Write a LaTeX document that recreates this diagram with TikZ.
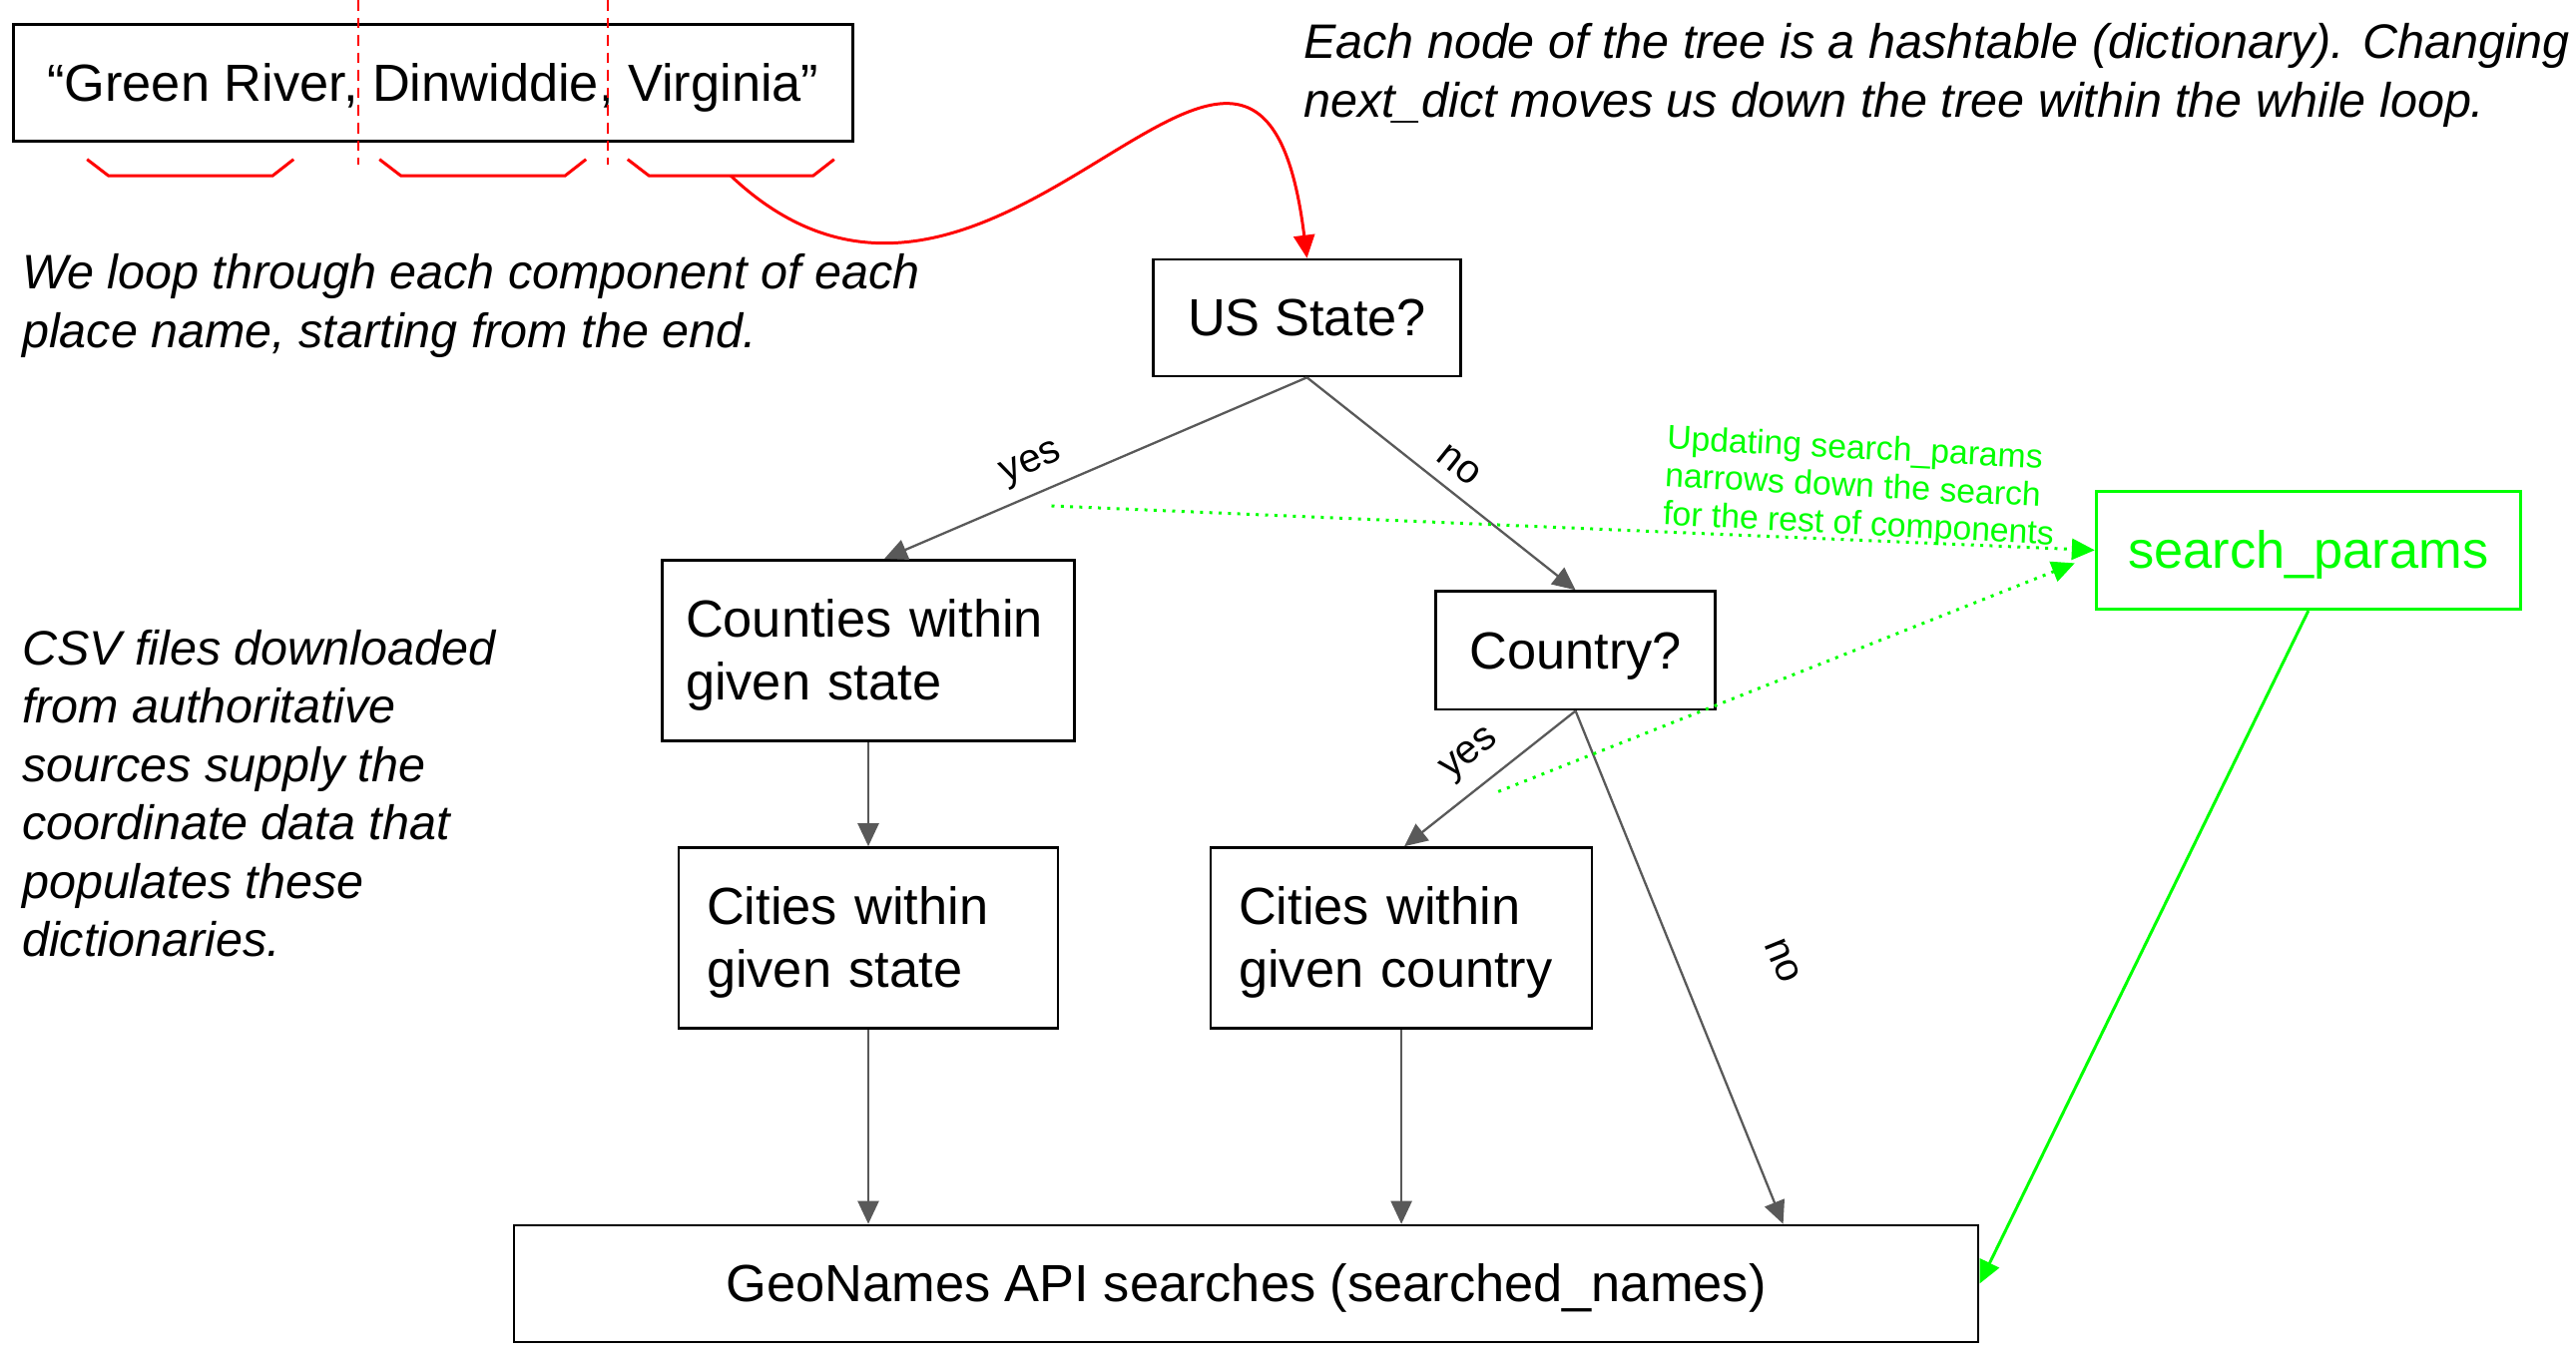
\documentclass[tikz,border=0pt]{standalone}
\usepackage{fontspec}
\setmainfont{Liberation Sans}
\usepackage{tikz}
\usetikzlibrary{arrows.meta}
\definecolor{linegray}{HTML}{595959}
\definecolor{notegreen}{HTML}{00FF00}
\definecolor{notered}{HTML}{FF0000}

\begin{document}
\begin{tikzpicture}[scale=1,
    box/.style={draw, line width=0.75pt, inner sep=0pt, align=left, font=\fontsize{14.9}{17.9}\selectfont,
        execute at begin node=\rule{0pt}{0.905em}, execute at end node=\rule[-0.212em]{0pt}{0pt}},
    note/.style={anchor=west, inner sep=0pt, align=left, font=\fontsize{13.8}{16.8}\selectfont\itshape},
    tag/.style={inner sep=0pt, font=\fontsize{11.4}{13}\selectfont},
    flow/.style={draw=linegray, line width=0.65pt, -{Triangle[length=0.23cm, width=0.21cm]}},
    hint/.style={draw=notegreen, line width=0.85pt, dash pattern=on 0.85pt off 1.8pt, -{Triangle[length=0.23cm, width=0.21cm]}}]
    \useasboundingbox (0,0) rectangle (25.81,13.6);
    \node[box, minimum width=8.41cm, minimum height=1.17cm] (place) at (4.338,12.768) {“Green River, Dinwiddie, Virginia”};
    \draw[notered, line width=0.75pt, dash pattern=on 3pt off 2pt] (3.589,13.6) -- (3.589,11.954);
    \draw[notered, line width=0.75pt, dash pattern=on 3pt off 2pt] (6.091,13.6) -- (6.091,11.954);
    \foreach \x in {0.872,3.802,6.288}
        \draw[notered, line width=0.85pt] (\x,12.003) -- (\x+0.214,11.839) -- (\x+1.86,11.839) -- (\x+2.07,12.003);
    \coordinate (cvstart) at (7.32,11.84);
    \node[note] (loopnote) at (0.214,10.537) {We loop through each component of each\\place name, starting from the end.};
    \node[note] (treenote) at (13.054,12.842) {Each node of the tree is a hashtable (dictionary). Changing\\next\_dict moves us down the tree within the while loop.};
    \node[note, font=\fontsize{13.8}{16.65}\selectfont\itshape] (csvnote) at (0.214,5.649) {CSV files downloaded\\from authoritative\\sources supply the\\coordinate data that\\populates these\\dictionaries.};
    \node[box, minimum width=3.08cm, minimum height=1.17cm] (state) at (13.095,10.415) {US State?};
    \node[box, minimum width=4.13cm, minimum height=1.81cm, text width=3.66cm] (counties) at (8.70,7.081) {Counties within\\given state};
    \node[box, minimum width=2.80cm, minimum height=1.185cm] (country) at (15.786,7.081) {Country?};
    \node[box, minimum width=3.80cm, minimum height=1.81cm, text width=3.24cm] (citystate) at (8.70,4.20) {Cities within\\given state};
    \node[box, minimum width=3.82cm, minimum height=1.81cm, text width=3.26cm] (citycountry) at (14.041,4.20) {Cities within\\given country};
    \node[box, minimum width=14.67cm, minimum height=1.17cm] (geo) at (12.486,0.735) {GeoNames API searches (searched\_names)};
    \node[box, draw=notegreen, text=notegreen, line width=0.85pt, minimum width=4.25cm, minimum height=1.185cm] (params) at (23.128,8.086) {search\_params};
    \draw[notered, line width=0.85pt, -{Triangle[length=0.23cm, width=0.21cm]}] (cvstart) .. controls (10.0,9.3) and (12.6,15.0) .. (state.north);
    \draw[flow] (state.south) -- ([xshift=0.16cm]counties.north);
    \draw[flow] (state.south) -- (country.north);
    \draw[flow] (counties.south) -- (citystate.north);
    \draw[flow] (country.south) -- ([xshift=0.03cm]citycountry.north);
    \draw[flow] (country.south) -- ([xshift=5.38cm]geo.north);
    \draw[flow] (citystate.south) -- (citystate.south |- geo.north);
    \draw[flow] (citycountry.south) -- (citycountry.south |- geo.north);
    \node[tag, rotate=23] (yesstate) at (10.338,8.942) {yes};
    \node[tag, rotate=-38.6] (nostate) at (14.617,8.942) {no};
    \node[tag, rotate=39] (yescountry) at (14.733,6.028) {yes};
    \node[tag, rotate=-68] (nocountry) at (17.86,3.97) {no};
    \coordinate (fromstate) at (10.535,8.53);
    \coordinate (fromcountry) at (15.012,5.666);
    \draw[hint] (fromstate) -- (params.west);
    \draw[hint] (fromcountry) -- ([xshift=-0.2cm,yshift=-0.13cm]params.west);
    \draw[notegreen, line width=0.85pt, -{Triangle[length=0.23cm, width=0.21cm]}] (params.south) -- (geo.east);
    \node[note, text=notegreen, rotate=-3, font=\fontsize{9.6}{10.8}\selectfont] (paramsnote) at (16.675,8.81) {Updating search\_params\\narrows down the search\\for the rest of components};
\end{tikzpicture}
\end{document}
